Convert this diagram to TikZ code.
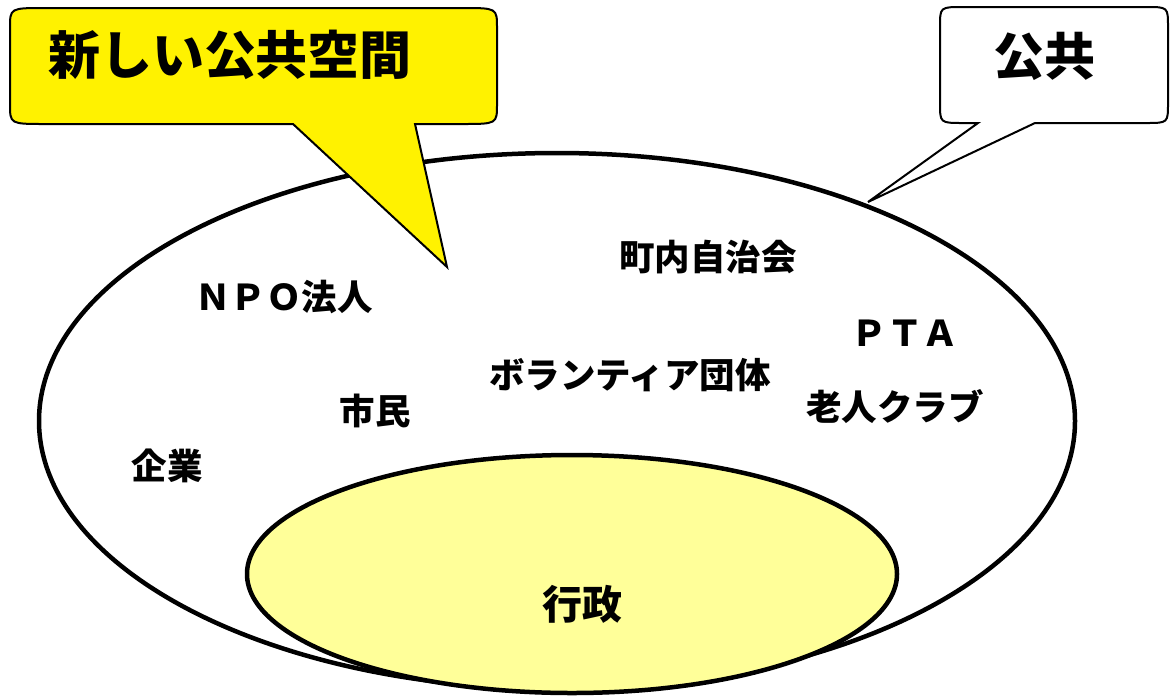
\documentclass[tikz,border=0pt]{standalone}
\usepackage{fontspec}
\usetikzlibrary{shapes.geometric}
\newfontfamily\jp{Noto Sans CJK JP}
\tikzset{
  lbl/.style={font=\jp\bfseries\fontsize{35.5}{38}\selectfont, inner sep=0pt},
  callout/.style={draw=black, line width=2pt, line join=miter},
  ring/.style={draw=black, line width=4.5pt}
}
\begin{document}
\begin{tikzpicture}[x=1pt,y=-1pt]
\useasboundingbox (0,0) rectangle (1170,697);
% outer ellipse
\node[ring, ellipse, fill=white, minimum width=1036pt, minimum height=536pt, inner sep=0pt] (pub) at (557,421) {};
% inner ellipse
\node[ring, ellipse, fill={rgb,255:red,255;green,255;blue,153}, minimum width=650pt, minimum height=238pt, inner sep=0pt] (gov) at (572,574) {};
\node[font=\jp\bfseries\fontsize{40}{44}\selectfont, inner sep=0pt] (govt) at (582,604) {行政};
% labels
\node[lbl] (npo) at (284,297) {ＮＰＯ法人};
\node[lbl] (cho) at (708,257) {町内自治会};
\node[lbl] (vol) at (630,375) {ボランティア団体};
\node[lbl] (pta) at (905,333) {ＰＴＡ};
\node[lbl] (rou) at (895,407) {老人クラブ};
\node[lbl] (shi) at (375,411) {市民};
\node[lbl] (kig) at (167,466) {企業};
% yellow callout
\coordinate (ytip) at (447,267);
\draw[callout, fill=yellow]
  (415,124) -- (462,124) .. controls (497,124) .. (497,104)
  -- (497,28) .. controls (497,8) .. (462,8)
  -- (45,8) .. controls (10,8) .. (10,28)
  -- (10,104) .. controls (10,124) .. (45,124)
  -- (293,124) -- (ytip) -- cycle;
\node[font=\jp\bfseries\fontsize{52}{56}\selectfont, inner sep=0pt] (newpub) at (230,55) {新しい公共空間};
% white callout
\coordinate (wtip) at (868,202);
\draw[callout, fill=white]
  (1035,123) -- (1146,123) .. controls (1168,123) .. (1168,103)
  -- (1168,27) .. controls (1168,7) .. (1146,7)
  -- (963,7) .. controls (940,7) .. (940,27)
  -- (940,103) .. controls (940,123) .. (963,123)
  -- (978,123) -- (wtip) -- cycle;
\node[font=\jp\bfseries\fontsize{51}{55}\selectfont, inner sep=0pt] (pubt) at (1044,56) {公共};
\end{tikzpicture}
\end{document}
